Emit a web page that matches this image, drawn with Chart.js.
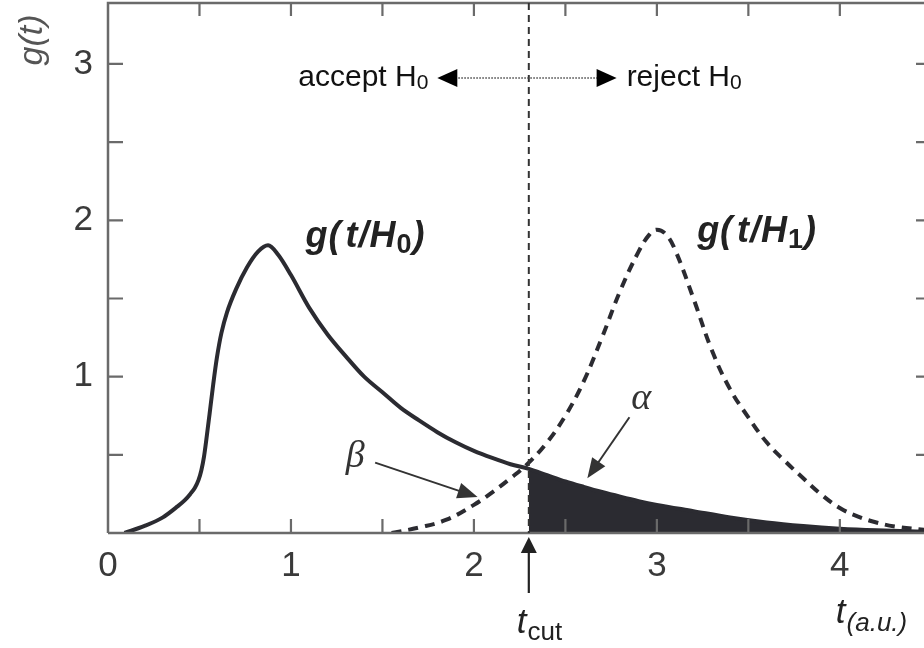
<!DOCTYPE html>
<html>
<head>
<meta charset="utf-8">
<title>Test statistic distributions g(t/H0) and g(t/H1)</title>
<script src="https://cdn.jsdelivr.net/npm/chart.js@4/dist/chart.umd.min.js"></script>
<style>
  html, body { margin: 0; padding: 0; background: #fff; overflow: hidden; }
  #wrap { width: 924px; height: 648px; position: relative; }
</style>
</head>
<body>
<div id="wrap"><canvas id="c" width="924" height="648"></canvas></div>
<script>
// Null hypothesis density g(t/H0)
const tH0 = [0.09, 0.2, 0.3, 0.38, 0.42, 0.45, 0.475, 0.495, 0.51, 0.525, 0.54, 0.555, 0.575, 0.595, 0.62, 0.65, 0.7, 0.76, 0.82, 0.875, 0.93, 1.0, 1.1, 1.2, 1.3, 1.4, 1.5, 1.6, 1.7, 1.8, 1.9, 2.0, 2.1, 2.2, 2.3, 2.4, 2.5, 2.6, 2.7, 2.8, 2.9, 3.0, 3.2, 3.4, 3.6, 3.8, 4.0, 4.2, 4.46];
const gH0 = [0.0, 0.045, 0.1, 0.17, 0.21, 0.25, 0.29, 0.34, 0.40, 0.49, 0.62, 0.76, 0.95, 1.12, 1.28, 1.41, 1.56, 1.70, 1.80, 1.84, 1.78, 1.65, 1.44, 1.27, 1.13, 1.0, 0.9, 0.8, 0.72, 0.645, 0.58, 0.525, 0.48, 0.44, 0.41, 0.37, 0.33, 0.295, 0.262, 0.232, 0.204, 0.18, 0.14, 0.1, 0.068, 0.045, 0.028, 0.017, 0.008];

// Alternative hypothesis density g(t/H1)
const tH1 = [1.55, 1.7, 1.85, 2.0, 2.1, 2.2, 2.3, 2.4, 2.5, 2.6, 2.7, 2.8, 2.9, 2.96, 3.0, 3.05, 3.1, 3.2, 3.3, 3.4, 3.5, 3.6, 3.7, 3.8, 3.9, 4.0, 4.1, 4.2, 4.3, 4.46];
const gH1 = [0.0, 0.035, 0.085, 0.18, 0.26, 0.35, 0.45, 0.58, 0.75, 0.97, 1.25, 1.55, 1.80, 1.91, 1.94, 1.91, 1.81, 1.50, 1.17, 0.92, 0.74, 0.58, 0.46, 0.35, 0.245, 0.16, 0.105, 0.067, 0.042, 0.02];

// Decision threshold
const tCut = 2.3;

// Axis tick labels (integer positions only; minor ticks every 0.5)
const xTickLabels = ['0', '1', '2', '3', '4'];
const yTickLabels = ['1', '2', '3'];

const ink = '#2b2b31';
const axisGrey = '#6a6a6a';
const labelGrey = '#3a3a3a';
const SANS = '"Liberation Sans", Arial, sans-serif';
const SERIF = '"Liberation Serif", "Times New Roman", serif';

const pts = (ts, gs) => ts.map((t, i) => ({ x: t, y: gs[i] }));
const h0Points = pts(tH0, gH0);
const h1Points = pts(tH1, gH1);
const alphaPoints = h0Points.filter(p => p.x >= tCut);

function drawRuns(ctx, x, y, parts) {
  let cx = x;
  parts.forEach(p => {
    ctx.font = p.font;
    ctx.fillText(p.text, cx, y + (p.dy || 0));
    cx += ctx.measureText(p.text).width + (p.gap || 0);
  });
  return cx;
}
function runsWidth(ctx, parts) {
  let w = 0;
  parts.forEach(p => { ctx.font = p.font; w += ctx.measureText(p.text).width + (p.gap || 0); });
  return w;
}
function arrow(ctx, x1, y1, x2, y2, headLen, headHalf) {
  const a = Math.atan2(y2 - y1, x2 - x1);
  const c = Math.cos(a), s = Math.sin(a);
  ctx.beginPath();
  ctx.moveTo(x1, y1);
  ctx.lineTo(x2 - headLen * c * 0.7, y2 - headLen * s * 0.7);
  ctx.stroke();
  ctx.beginPath();
  ctx.moveTo(x2, y2);
  ctx.lineTo(x2 - headLen * c + headHalf * s, y2 - headLen * s - headHalf * c);
  ctx.lineTo(x2 - headLen * c - headHalf * s, y2 - headLen * s + headHalf * c);
  ctx.closePath();
  ctx.fill();
}

const framePlugin = {
  id: 'frameAndNotes',
  afterDatasetsDraw(chart) {
    const { ctx, chartArea: a, scales: { x, y } } = chart;
    ctx.save();

    // frame: left, top and bottom lines
    ctx.strokeStyle = axisGrey;
    ctx.lineWidth = 2.5;
    ctx.beginPath();
    ctx.moveTo(a.left, a.bottom);
    ctx.lineTo(a.left, a.top);
    ctx.lineTo(a.right + 2, a.top);
    ctx.moveTo(a.left, a.bottom);
    ctx.lineTo(a.right + 2, a.bottom);
    ctx.stroke();

    // inward tick marks
    ctx.lineWidth = 2.2;
    ctx.beginPath();
    for (let t = 0.5; t <= x.max; t += 0.5) {
      const xp = x.getPixelForValue(t);
      ctx.moveTo(xp, a.bottom); ctx.lineTo(xp, a.bottom - 14);
      ctx.moveTo(xp, a.top); ctx.lineTo(xp, a.top + 13);
    }
    for (let g = 0.5; g <= y.max; g += 0.5) {
      const yp = y.getPixelForValue(g);
      ctx.moveTo(a.left, yp); ctx.lineTo(a.left + 15, yp);
      ctx.moveTo(a.right, yp); ctx.lineTo(a.right - 8, yp);
    }
    ctx.stroke();

    // threshold line
    const xc = x.getPixelForValue(tCut);
    ctx.strokeStyle = '#333';
    ctx.lineWidth = 2;
    ctx.setLineDash([7, 5]);
    ctx.beginPath();
    ctx.moveTo(xc, a.top);
    ctx.lineTo(xc, a.bottom);
    ctx.stroke();
    ctx.setLineDash([]);

    // accept / reject header
    const yh = y.getPixelForValue(2.91);
    ctx.fillStyle = '#111';
    ctx.textBaseline = 'alphabetic';
    const acc = [
      { text: 'accept H', font: '30px ' + SANS },
      { text: '0', font: '21px ' + SANS, dy: 3 }
    ];
    const xl = x.getPixelForValue(1.80), xr = x.getPixelForValue(2.78);
    drawRuns(ctx, xl - 9 - runsWidth(ctx, acc), yh + 8, acc);
    drawRuns(ctx, xr + 10, yh + 8, [
      { text: 'reject H', font: '30px ' + SANS },
      { text: '0', font: '21px ' + SANS, dy: 3 }
    ]);
    ctx.strokeStyle = '#444';
    ctx.lineWidth = 1.4;
    ctx.setLineDash([1.5, 1.5]);
    ctx.beginPath();
    ctx.moveTo(xl + 18, yh); ctx.lineTo(xr - 18, yh);
    ctx.stroke();
    ctx.setLineDash([]);
    ctx.fillStyle = '#000';
    ctx.beginPath();
    ctx.moveTo(xl, yh); ctx.lineTo(xl + 20, yh - 9); ctx.lineTo(xl + 20, yh + 9); ctx.closePath(); ctx.fill();
    ctx.beginPath();
    ctx.moveTo(xr, yh); ctx.lineTo(xr - 20, yh - 9); ctx.lineTo(xr - 20, yh + 9); ctx.closePath(); ctx.fill();

    // curve labels
    ctx.fillStyle = '#222';
    ctx.letterSpacing = '1px';
    const bi = 'italic bold 36px ' + SANS;
    const bs = 'bold 27px ' + SANS;
    drawRuns(ctx, x.getPixelForValue(1.08), y.getPixelForValue(1.83), [
      { text: 'g(', font: bi, gap: 4 }, { text: 't/H', font: bi }, { text: '0', font: bs, dy: 6 }, { text: ')', font: bi }
    ]);
    drawRuns(ctx, x.getPixelForValue(3.22), y.getPixelForValue(1.86), [
      { text: 'g(', font: bi, gap: 4 }, { text: 't/H', font: bi }, { text: '1', font: bs, dy: 6 }, { text: ')', font: bi }
    ]);
    ctx.letterSpacing = '0px';

    // alpha and beta pointers
    ctx.fillStyle = '#333';
    ctx.strokeStyle = '#333';
    ctx.lineWidth = 2;
    ctx.font = 'italic 38px ' + SERIF;
    ctx.fillText('α', x.getPixelForValue(2.86), y.getPixelForValue(0.79));
    ctx.fillText('β', x.getPixelForValue(1.30), y.getPixelForValue(0.42));
    arrow(ctx, x.getPixelForValue(2.85), y.getPixelForValue(0.74),
               x.getPixelForValue(2.62), y.getPixelForValue(0.35), 20, 8);
    arrow(ctx, x.getPixelForValue(1.46), y.getPixelForValue(0.45),
               x.getPixelForValue(2.02), y.getPixelForValue(0.23), 20, 8);

    // threshold marker below the axis
    ctx.fillStyle = '#222';
    ctx.strokeStyle = '#222';
    ctx.lineWidth = 2.2;
    arrow(ctx, xc, a.bottom + 60, xc, a.bottom + 4, 16, 8);
    drawRuns(ctx, xc - 12, a.bottom + 100, [
      { text: 't', font: 'italic 35px ' + SANS, gap: 1 },
      { text: 'cut', font: '26px ' + SANS, dy: 7 }
    ]);

    // axis titles
    drawRuns(ctx, x.getPixelForValue(4.0) - 4, a.bottom + 90, [
      { text: 't', font: 'italic 35px ' + SANS, gap: 1 },
      { text: '(a.u.)', font: 'italic 26px ' + SANS, dy: 8 }
    ]);
    ctx.save();
    ctx.translate(42, 40);
    ctx.rotate(-Math.PI / 2);
    ctx.fillStyle = '#555';
    ctx.textAlign = 'center';
    ctx.font = 'italic 34px ' + SANS;
    ctx.fillText('g(t)', 0, 0);
    ctx.restore();

    ctx.restore();
  }
};

const noEdgePadding = s => {
  s.paddingLeft = 0; s.paddingRight = 0; s.paddingTop = 0; s.paddingBottom = 0;
};

new Chart(document.getElementById('c'), {
  type: 'line',
  data: {
    datasets: [
      {
        label: 'g(t/H0)',
        data: h0Points,
        borderColor: ink,
        borderWidth: 4,
        pointRadius: 0,
        fill: false,
        cubicInterpolationMode: 'monotone',
        order: 1
      },
      {
        label: 'g(t/H1)',
        data: h1Points,
        borderColor: ink,
        borderWidth: 4,
        borderDash: [10, 7],
        pointRadius: 0,
        fill: false,
        tension: 0.4,
        order: 2
      },
      {
        label: 'alpha',
        data: alphaPoints,
        borderColor: ink,
        borderWidth: 1,
        backgroundColor: ink,
        pointRadius: 0,
        fill: 'origin',
        cubicInterpolationMode: 'monotone',
        order: 3
      }
    ]
  },
  options: {
    responsive: false,
    animation: false,
    devicePixelRatio: 1,
    layout: { padding: { top: 3, right: 0, left: 0, bottom: 0 } },
    plugins: { legend: { display: false }, tooltip: { enabled: false } },
    scales: {
      x: {
        type: 'linear',
        min: 0,
        max: 4.46,
        grid: { display: false, drawTicks: false },
        border: { display: false },
        afterFit: s => { s.height = 115; noEdgePadding(s); },
        ticks: {
          stepSize: 0.5,
          includeBounds: false,
          padding: 12,
          color: labelGrey,
          font: { family: SANS, size: 35 },
          maxRotation: 0,
          autoSkip: false,
          callback: v => xTickLabels.includes(String(v)) ? String(v) : ''
        }
      },
      y: {
        type: 'linear',
        min: 0,
        max: 3.39,
        grid: { display: false, drawTicks: false },
        border: { display: false },
        afterFit: s => { s.width = 108; noEdgePadding(s); },
        ticks: {
          stepSize: 0.5,
          includeBounds: false,
          padding: 15,
          color: labelGrey,
          font: { family: SANS, size: 35 },
          autoSkip: false,
          callback: v => yTickLabels.includes(String(v)) ? String(v) : ''
        }
      }
    }
  },
  plugins: [framePlugin]
});
</script>
</body>
</html>
